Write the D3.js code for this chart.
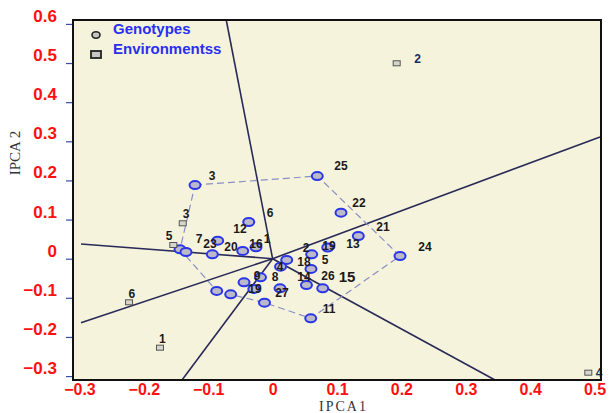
<!DOCTYPE html>
<html>
<head>
<meta charset="utf-8">
<script src="https://cdn.jsdelivr.net/npm/d3@7"></script>
<style>
  body { margin: 0; background: #fff; }
  svg { display: block; }
</style>
</head>
<body>
<svg id="chart"></svg>
<script>
// genotype scores (IPCA1, IPCA2)
const genoX = [-0.1205, 0.0694, 0.1062, 0.1331, 0.1979, 0.0607, 0.0856, -0.0258, -0.0371,
  -0.0853, -0.0464, -0.0936, -0.1438, -0.1345, 0.0219, 0.0123, 0.0596, 0.0526, 0.0778,
  -0.0188, -0.0292, 0.0115, -0.0444, -0.0126, 0.0592, -0.0868, -0.0651]
const genoY = [0.1883, 0.2113, 0.1176, 0.058, 0.0069, 0.0112, 0.0286, 0.0291, 0.0938,
  0.046, 0.0197, 0.0112, 0.024, 0.0171, -0.0033, -0.0204, -0.0263, -0.0672, -0.0756,
  -0.0475, -0.0774, -0.0756, -0.0603, -0.1124, -0.1523, -0.0825, -0.091]

// genotype labels as printed on the plot
const genoLabels = ['3', '25', '22', '21', '13', '24', '6', '12', '7', '23', '20', '16', '1',
  '2', '19', '18', '5', '4', '9', '8', '14', '26', '15', '19', '27', '11']
const genoLabelX = [-0.0941, 0.1062, 0.1342, 0.1715, 0.1249, 0.2367, -0.004, -0.0506, -0.1143,
  -0.0972, -0.0646, -0.0258, -0.0087, 0.0519, 0.0876, 0.0488, 0.0814, 0.0115, -0.0242,
  0.0037, 0.0488, 0.086, 0.1155, -0.0273, 0.0146, 0.0876]
const genoLabelY = [0.2113, 0.2369, 0.1421, 0.081, 0.0376, 0.0299, 0.1168, 0.0759, 0.0504,
  0.0376, 0.0299, 0.0376, 0.0504, 0.0285, 0.0325, -0.0075, -0.0033, -0.0212, -0.0425,
  -0.0468, -0.0468, -0.0442, -0.0468, -0.0765, -0.0877, -0.1286]

// environments
const envLabels = ['1', '2', '3', '4', '5', '6']
const envX = [-0.1749, 0.1927, -0.1396, 0.4903, -0.1542, -0.223]
const envY = [-0.2274, 0.4994, 0.0905, -0.2913, 0.035, -0.1114]
const envLabelX = [-0.1713, 0.2253, -0.1345, 0.5069, -0.1609, -0.2188]
const envLabelY = [-0.2034, 0.5103, 0.116, -0.2913, 0.058, -0.0884]

// polygon vertices (indices into genotype arrays)
const hullOrder = [0, 1, 4, 24, 23, 25, 12]

// rays from the origin, perpendicular to the polygon sides
const rayX = [-0.072, 0.5085, -0.2976, -0.2976, -0.1407, 0.3454]
const rayY = [0.61, 0.311, 0.0376, -0.1636, -0.31, -0.31]

const xTicks = [-0.3, -0.2, -0.1, 0, 0.1, 0.2, 0.3, 0.4, 0.5]
const yTicks = [-0.3, -0.2, -0.1, 0, 0.1, 0.2, 0.3, 0.4, 0.5, 0.6]

const width = 616
const height = 413
const margin = { top: 20, right: 15, bottom: 33, left: 73 }

const svg = d3.select('#chart')
  .attr('width', width)
  .attr('height', height)
  .attr('viewBox', `0,0,${width},${height}`)

const x = d3.scaleLinear().domain([-0.31, 0.51]).range([margin.left, width - margin.right])
const y = d3.scaleLinear().domain([-0.31, 0.61]).range([height - margin.bottom, margin.top])

// plot background
svg.append('rect')
  .attr('x', margin.left)
  .attr('y', margin.top)
  .attr('width', width - margin.left - margin.right)
  .attr('height', height - margin.top - margin.bottom)
  .attr('fill', '#f5f3dc')

// y axis: blue ticks, red labels sitting a bit above the ticks
const yAxis = svg.append('g')
  .attr('transform', `translate(${margin.left},0)`)
  .call(d3.axisLeft(y).tickValues(yTicks).tickSize(7).tickPadding(9)
    .tickFormat(d => d === 0 ? '0' : d3.format('.1f')(d)))
yAxis.select('.domain').remove()
yAxis.selectAll('.tick line').attr('stroke', '#3a4bb0').attr('stroke-width', 1.2)
yAxis.selectAll('.tick text')
  .attr('fill', '#ff1010')
  .attr('font-family', 'Liberation Sans, Arial, sans-serif')
  .attr('font-weight', 'bold')
  .attr('font-size', 17)
  .attr('dy', '-0.15em')

const xAxis = svg.append('g')
  .attr('transform', `translate(0,${height - margin.bottom})`)
  .call(d3.axisBottom(x).tickValues(xTicks).tickSize(0).tickPadding(4)
    .tickFormat(d => d === 0 ? '0' : d3.format('.1f')(d)))
xAxis.select('.domain').remove()
xAxis.selectAll('.tick text')
  .attr('fill', '#ff1010')
  .attr('font-family', 'Liberation Sans, Arial, sans-serif')
  .attr('font-weight', 'bold')
  .attr('font-size', 16)

// axis titles
svg.append('text')
  .attr('transform', `translate(20,${y(0.27)}) rotate(-90)`)
  .attr('text-anchor', 'middle')
  .attr('font-family', 'Liberation Serif, Times New Roman, serif')
  .attr('font-size', 15)
  .attr('fill', '#333')
  .text('IPCA 2')

svg.append('text')
  .attr('x', x(0.11))
  .attr('y', 411)
  .attr('text-anchor', 'middle')
  .attr('font-family', 'Liberation Serif, Times New Roman, serif')
  .attr('font-size', 14)
  .attr('letter-spacing', 2)
  .attr('fill', '#333')
  .text('IPCA1')

const plot = svg.append('g')

// rays
plot.selectAll('line.ray')
  .data(rayX)
  .join('line')
  .attr('class', 'ray')
  .attr('x1', x(0))
  .attr('y1', y(0))
  .attr('x2', d => x(d))
  .attr('y2', (_, i) => y(rayY[i]))
  .attr('stroke', '#2a2a58')
  .attr('stroke-width', 1.6)

// polygon
const hullPts = hullOrder.map(i => [x(genoX[i]), y(genoY[i])])
plot.append('path')
  .attr('d', d3.line()(hullPts) + 'Z')
  .attr('fill', 'none')
  .attr('stroke', '#8a8ec4')
  .attr('stroke-width', 1.2)
  .attr('stroke-dasharray', '7,4')

// genotype markers
plot.selectAll('ellipse.geno')
  .data(genoX)
  .join('ellipse')
  .attr('class', 'geno')
  .attr('cx', d => x(d))
  .attr('cy', (_, i) => y(genoY[i]))
  .attr('rx', 5.5)
  .attr('ry', 4)
  .attr('fill', '#bcbac8')
  .attr('stroke', '#2a36e8')
  .attr('stroke-width', 2)

// genotype labels
plot.selectAll('text.geno')
  .data(genoLabels)
  .join('text')
  .attr('class', 'geno')
  .attr('x', (_, i) => x(genoLabelX[i]))
  .attr('y', (_, i) => y(genoLabelY[i]))
  .attr('dy', '0.36em')
  .attr('text-anchor', 'middle')
  .attr('font-family', 'Liberation Sans, Arial, sans-serif')
  .attr('font-weight', 'bold')
  .attr('font-size', d => d === '15' ? 15 : 12)
  .attr('fill', '#1a1a1a')
  .text(d => d)

// environment markers
plot.selectAll('rect.env')
  .data(envX)
  .join('rect')
  .attr('class', 'env')
  .attr('x', d => x(d) - 3.5)
  .attr('y', (_, i) => y(envY[i]) - 2.5)
  .attr('width', 7)
  .attr('height', 5)
  .attr('fill', '#d8d6cc')
  .attr('stroke', '#555')
  .attr('stroke-width', 1)

plot.selectAll('text.env')
  .data(envLabels)
  .join('text')
  .attr('class', 'env')
  .attr('x', (_, i) => x(envLabelX[i]))
  .attr('y', (_, i) => y(envLabelY[i]))
  .attr('dy', '0.36em')
  .attr('text-anchor', 'middle')
  .attr('font-family', 'Liberation Sans, Arial, sans-serif')
  .attr('font-weight', 'bold')
  .attr('font-size', 12)
  .attr('fill', (_, i) => i === 1 || i === 3 ? '#1c2a5a' : '#1a1a1a')
  .text(d => d)

// legend
const legend = svg.append('g')
legend.append('ellipse')
  .attr('cx', 96).attr('cy', 35).attr('rx', 4).attr('ry', 3.2)
  .attr('fill', '#c8c6c0').attr('stroke', '#222').attr('stroke-width', 1.6)
legend.append('rect')
  .attr('x', 91).attr('y', 51).attr('width', 10).attr('height', 7)
  .attr('fill', '#c8c6c0').attr('stroke', '#222').attr('stroke-width', 1.8)
legend.selectAll('text')
  .data(['Genotypes', 'Environmentss'])
  .join('text')
  .attr('x', 113)
  .attr('y', (_, i) => 34 + i * 20)
  .attr('font-family', 'Liberation Sans, Arial, sans-serif')
  .attr('font-weight', 'bold')
  .attr('font-size', 15)
  .attr('fill', '#2a2ff0')
  .text(d => d)

// frame
svg.append('rect')
  .attr('x', margin.left)
  .attr('y', margin.top)
  .attr('width', width - margin.left - margin.right)
  .attr('height', height - margin.top - margin.bottom)
  .attr('fill', 'none')
  .attr('stroke', '#111')
  .attr('stroke-width', 2)
</script>
</body>
</html>
